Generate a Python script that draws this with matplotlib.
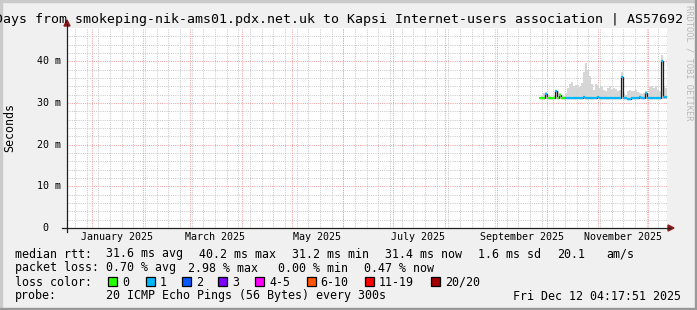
import datetime as dt
import numpy as np
import matplotlib
matplotlib.use("Agg")
import matplotlib.pyplot as plt
import matplotlib.dates as mdates
from matplotlib.patches import Rectangle, Polygon
from matplotlib.lines import Line2D

# ---------------- data ----------------
title = ("Last 360 Days from smokeping-nik-ams01.pdx.net.uk to "
         "Kapsi Internet-users association | AS57692")
end_time = dt.datetime(2025, 12, 12, 4, 17, 51)
range_days = 360
data_start = dt.datetime(2025, 9, 26, 9, 0)

median_ms = [31.2, 31.2, 31.2, 32.2, 31.2, 31.2, 31.2, 31.2, 32.8, 31.2,
             32.0, 31.2, 31.2, 31.2, 31.2, 31.2, 31.2, 31.2, 31.2, 31.2,
             31.2, 31.2, 31.4, 31.2, 31.2, 31.2, 31.2, 31.2, 31.3, 31.4,
             31.2, 31.2, 31.2, 31.2, 31.2, 31.2, 31.2, 31.2, 31.2, 31.2,
             31.2, 36.2, 31.2, 31.1, 31.0, 31.0, 31.1, 31.2, 31.2, 31.2,
             31.4, 31.2, 31.2, 32.3, 31.2, 31.2, 31.1, 31.1, 31.2, 31.2,
             31.2, 40.2, 31.5, 31.5]
smoke_hi_ms = [31.5, 31.8, 32.4, 32.6, 31.5, 31.6, 31.5, 31.8, 33.2, 32.8,
               32.5, 32.0, 31.8, 32.5, 33.5, 34.6, 35.0, 34.0, 34.4, 34.3,
               33.8, 34.8, 37.5, 39.6, 38.0, 36.5, 34.5, 33.2, 34.6, 34.3,
               33.6, 34.0, 33.2, 33.0, 33.6, 34.2, 33.4, 33.7, 33.3, 33.0,
               33.2, 37.4, 32.4, 32.0, 33.0, 33.2, 32.8, 33.0, 33.1, 32.6,
               32.3, 32.2, 32.5, 32.9, 32.4, 33.8, 34.0, 33.5, 34.0, 33.2,
               33.0, 41.5, 33.8, 33.6]
loss_bucket = [0, 0, 0, 1, 0, 0, 0, 0, 1, 0, 0, 0, 0] + [1] * 51
min_ping_ms = 30.9

loss_labels = ["0", "1", "2", "3", "4-5", "6-10", "11-19", "20/20"]
loss_colors = ["#26FF00", "#00B8FF", "#0059FF", "#7E00FF", "#FF00FF",
               "#FF5500", "#FF0000", "#A10000"]

y_ticks = [10, 20, 30, 40]
month_label_text = ["January 2025", "March 2025", "May 2025", "July 2025",
                    "September 2025", "November 2025"]
month_label_start = [dt.datetime(2025, 1, 1), dt.datetime(2025, 3, 1),
                     dt.datetime(2025, 5, 1), dt.datetime(2025, 7, 1),
                     dt.datetime(2025, 9, 1), dt.datetime(2025, 11, 1)]

stats_rtt = [("median rtt:", 16), ("31.6 ms avg", 107), ("40.2 ms max", 200),
             ("31.2 ms min", 293), ("31.4 ms now", 386), ("1.6 ms sd", 479),
             ("20.1", 558), ("am/s", 607)]
stats_loss = [("packet loss:", 16), ("0.70 % avg", 107), ("2.98 % max", 189),
              ("0.00 % min", 279), ("0.47 % now", 365)]
legend_sq_x = [108, 145.7, 181.7, 218.3, 255, 306.7, 365, 430.7]
probe_text = "20 ICMP Echo Pings (56 Bytes) every 300s"
stamp_text = "Fri Dec 12 04:17:51 2025"

# ---------------- layout ----------------
W, H = 697, 310
PL, PT, PW, PH = 67, 28, 600, 200
MONO = "DejaVu Sans Mono"
FS = 8.4      # legend / body text
FS_AX = 7.2   # axis tick labels

fig = plt.figure(figsize=(W / 100, H / 100), dpi=100, facecolor="#F0F0F0")


def fx(px):
    return px / W


def fy(py):
    return 1 - py / H


ax = fig.add_axes([fx(PL), fy(PT + PH), PW / W, PH / H], facecolor="white")
x0 = mdates.date2num(end_time - dt.timedelta(days=range_days))
x1 = mdates.date2num(end_time)
ax.set_xlim(x0, x1)
ax.set_ylim(0, 48)
for s in ax.spines.values():
    s.set_visible(False)
ax.set_xticks([])
ax.set_yticks([])

dots = (0, (1, 1.2))
# minor grid
d = dt.datetime(2024, 12, 22)
while d < end_time:
    ax.axvline(mdates.date2num(d), color="#C8C8C8", lw=0.72, ls=dots, zorder=1)
    d += dt.timedelta(days=7)
for v in range(2, 48, 2):
    if v % 10:
        ax.axhline(v, color="#C8C8C8", lw=0.72, ls=dots, zorder=1)
# major grid
for m in range(1, 13):
    ax.axvline(mdates.date2num(dt.datetime(2025, m, 1)), color="#F0A0A0",
               lw=0.72, ls=dots, zorder=1.5)
for v in y_ticks:
    ax.axhline(v, color="#F0A0A0", lw=0.72, ls=dots, zorder=1.5)

# data
n = len(median_ms)
edges = np.linspace(mdates.date2num(data_start), x1, n + 1)
ax.stairs(smoke_hi_ms, edges, baseline=min_ping_ms, fill=True,
          color="#D6D6D6", lw=0, zorder=2)
ax.stairs(median_ms, edges, baseline=None, color="#1E1E1E", lw=0.9, zorder=3)
ax.hlines(median_ms, edges[:-1], edges[1:],
          colors=[loss_colors[b] for b in loss_bucket], lw=1.6, zorder=4)

# axes lines + arrows (figure pixels)
axis_col = "#202020"
arrow_col = "#8B1A1A"
fig.add_artist(Line2D([fx(62), fx(670)], [fy(228), fy(228)], color=axis_col,
                      lw=0.9, transform=fig.transFigure))
fig.add_artist(Line2D([fx(67), fx(67)], [fy(232), fy(24)], color=axis_col,
                      lw=0.9, transform=fig.transFigure))
fig.add_artist(Polygon([[fx(668), fy(225)], [fx(674), fy(228)], [fx(668), fy(231)]],
                       closed=True, color=arrow_col, transform=fig.transFigure))
fig.add_artist(Polygon([[fx(64), fy(26)], [fx(67), fy(20)], [fx(70), fy(26)]],
                       closed=True, color=arrow_col, transform=fig.transFigure))

# borders
fig.add_artist(Rectangle((0, fy(2)), 1, 2 / H, color="#CBCBCB", transform=fig.transFigure))
fig.add_artist(Rectangle((0, 0), 2 / W, 1, color="#CBCBCB", transform=fig.transFigure))
fig.add_artist(Rectangle((0, 0), 1, 2 / H, color="#999999", transform=fig.transFigure))
fig.add_artist(Rectangle((1 - 2 / W, 0), 2 / W, 1, color="#999999", transform=fig.transFigure))

# title (the reference itself is cropped on the left)
fig.text(fx(683), fy(19.5), title, ha="right", va="center",
         fontsize=9.5, family=MONO)

# y tick labels
for v in y_ticks:
    fig.text(fx(61), fy(228 - v * PH / 48), f"{v} m", ha="right", va="center",
             fontsize=FS_AX, family=MONO)
fig.text(fx(48), fy(228), "0", ha="right", va="center", fontsize=FS_AX, family=MONO)

# x labels (centered mid-month)
for txt, st in zip(month_label_text, month_label_start):
    xd = mdates.date2num(st + dt.timedelta(days=15))
    xp = PL + (xd - x0) / (x1 - x0) * PW
    fig.text(fx(xp), fy(237.5), txt, ha="center", va="center",
             fontsize=FS_AX, family=MONO)

# y axis title
fig.text(fx(10), fy(128), "Seconds", rotation=90, ha="center", va="center",
         fontsize=FS, family=MONO)

# watermark
fig.text(fx(689), fy(5), "RRDTOOL / TOBI OETIKER", rotation=270, ha="center",
         va="top", fontsize=6.3, family=MONO, color="#B8B8B8")

# legend lines
for txt, xp in stats_rtt:
    fig.text(fx(xp - 1), fy(254), txt, ha="left", va="center", fontsize=FS, family=MONO)
for txt, xp in stats_loss:
    fig.text(fx(xp - 1), fy(268), txt, ha="left", va="center", fontsize=FS, family=MONO)
fig.text(fx(15), fy(282), "loss color:", ha="left", va="center", fontsize=FS, family=MONO)
for lab, col, xp in zip(loss_labels, loss_colors, legend_sq_x):
    fig.add_artist(Rectangle((fx(xp), fy(286)), 9 / W, 9 / H, facecolor=col,
                             edgecolor="black", lw=0.9, transform=fig.transFigure))
    fig.text(fx(xp + 14), fy(282), lab, ha="left", va="center", fontsize=FS, family=MONO)
fig.text(fx(15), fy(296), "probe:", ha="left", va="center", fontsize=FS, family=MONO)
fig.text(fx(106), fy(296), probe_text, ha="left", va="center", fontsize=FS, family=MONO)
fig.text(fx(681), fy(296), stamp_text, ha="right", va="center", fontsize=FS, family=MONO)

fig.savefig("out.png", dpi=100, facecolor=fig.get_facecolor())
